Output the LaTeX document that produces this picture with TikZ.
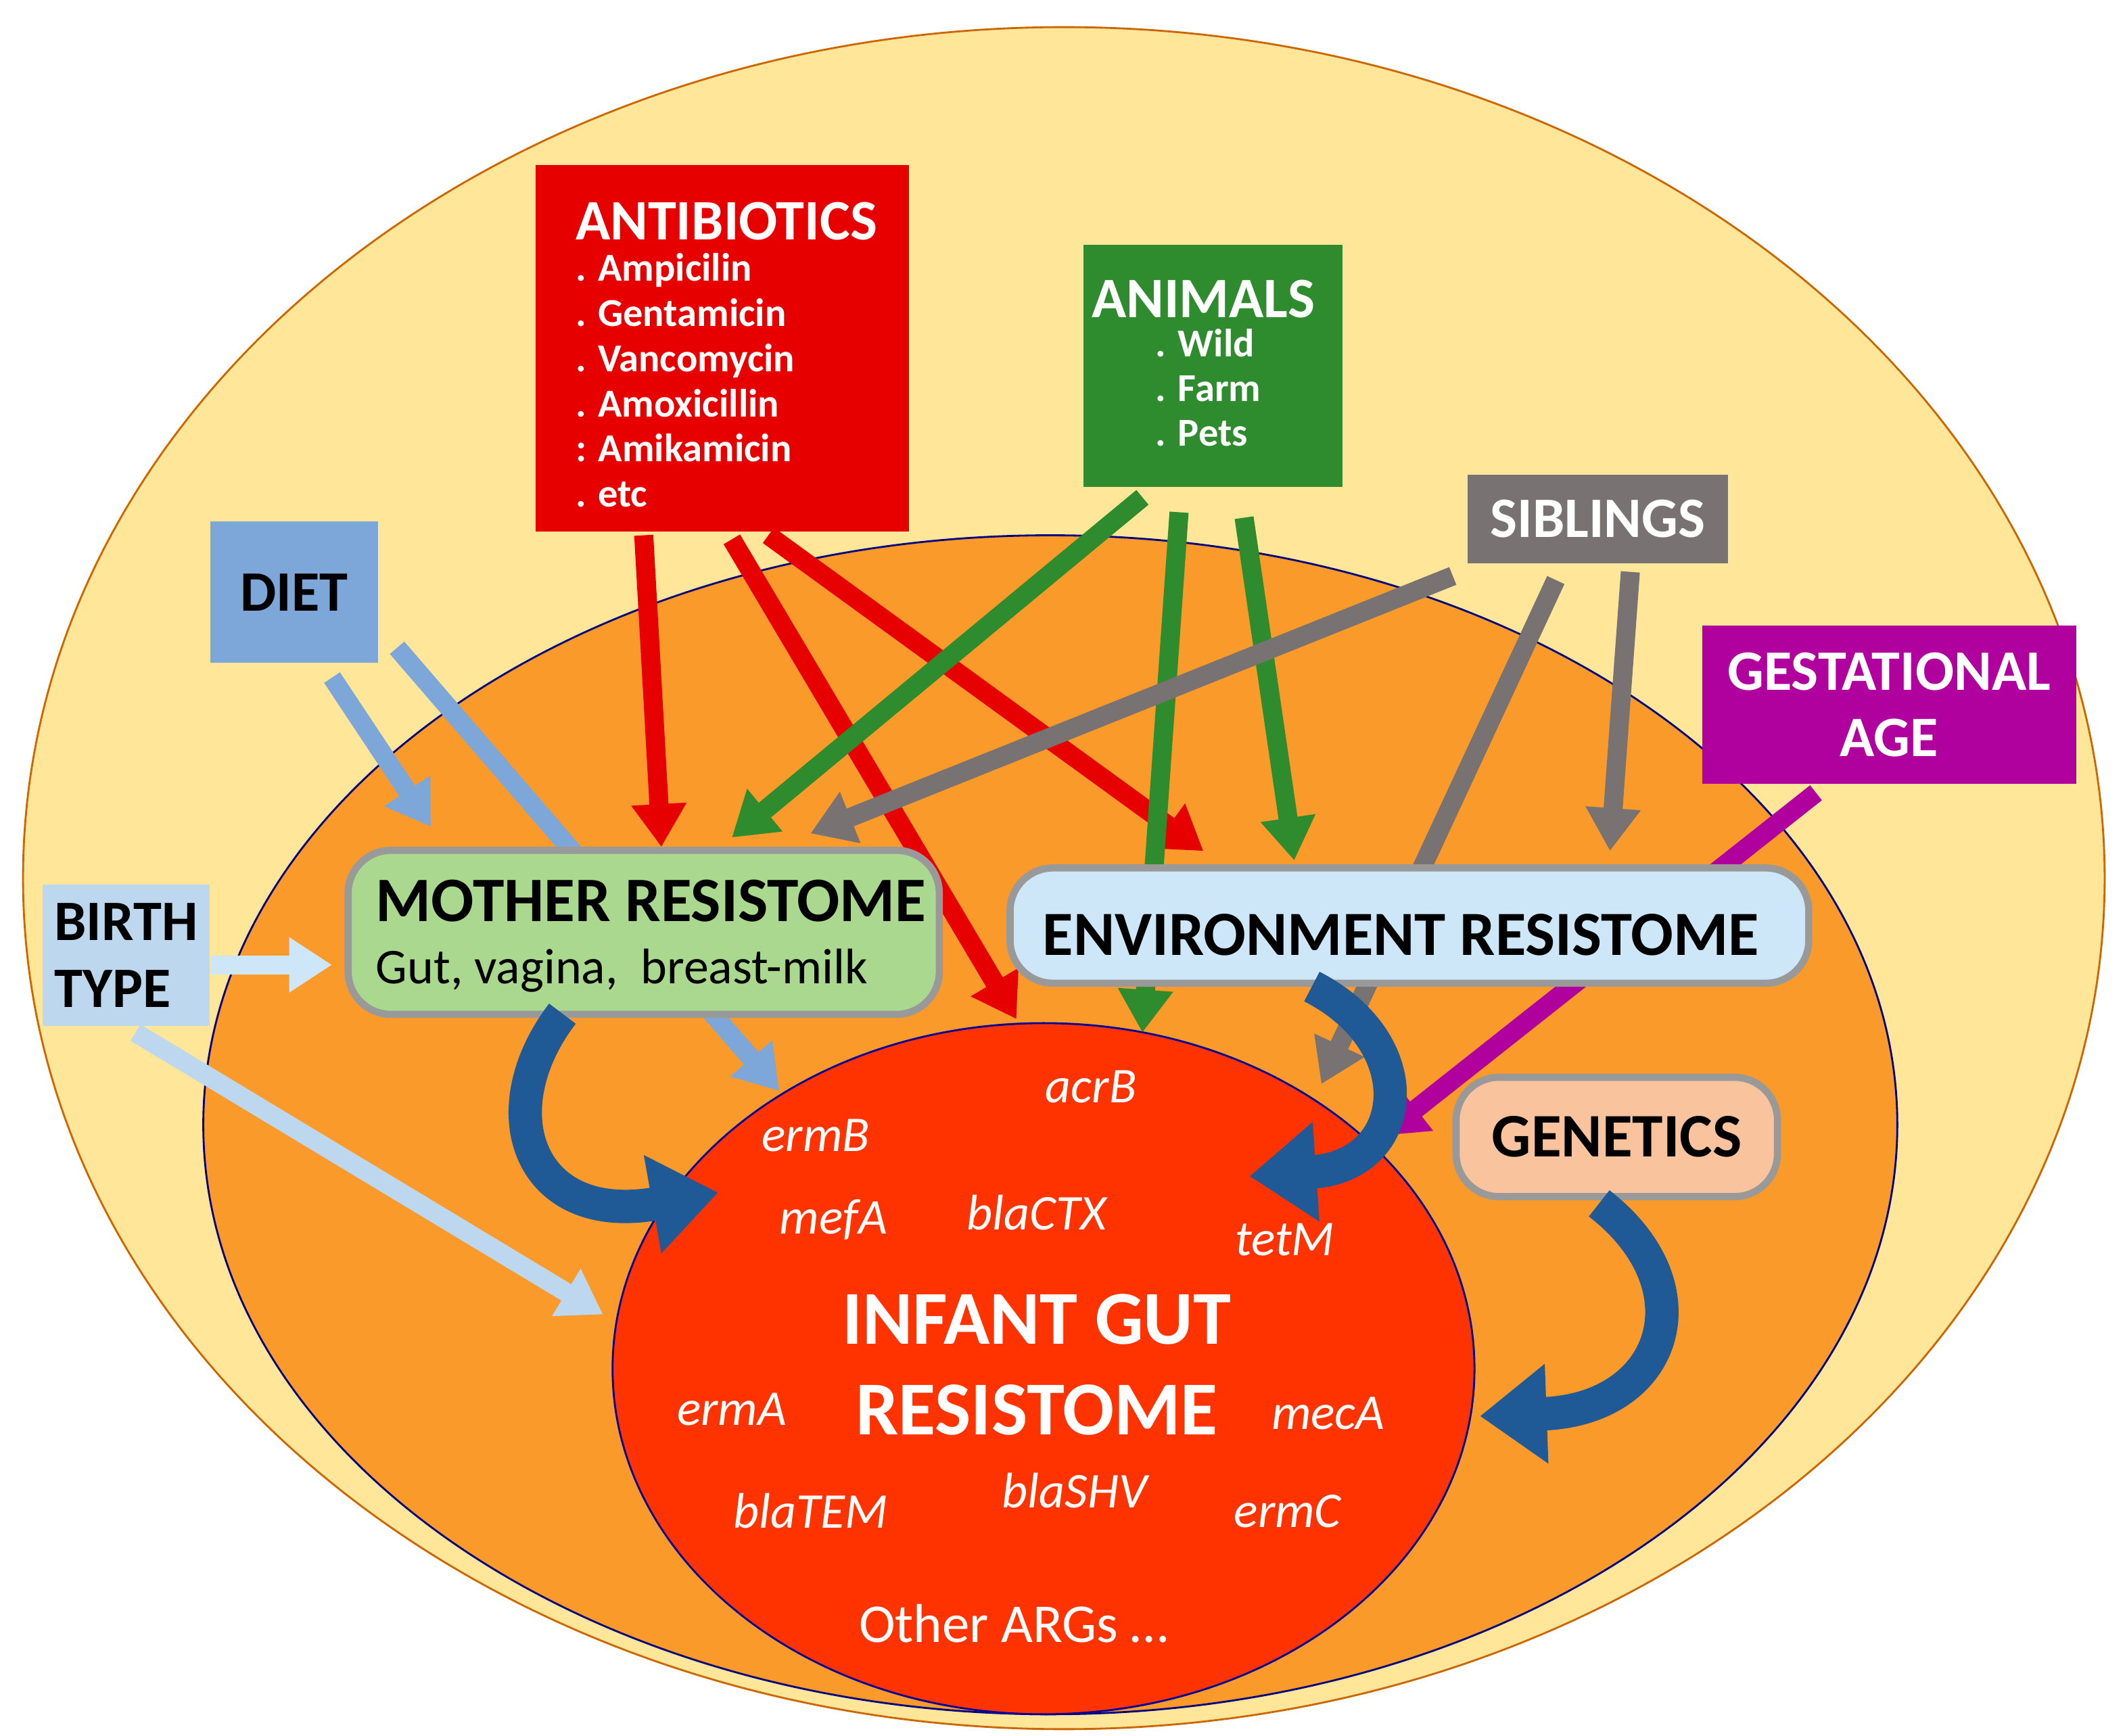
\documentclass[tikz,border=0pt]{standalone}
\usepackage{fontspec}
\setmainfont{Carlito}
\usetikzlibrary{arrows.meta}
\definecolor{yel}{HTML}{FFE699}
\definecolor{org}{HTML}{FA9A2A}
\definecolor{gut}{HTML}{FF3300}
\definecolor{abx}{HTML}{E60000}
\definecolor{ani}{HTML}{2E8B2E}
\definecolor{sib}{HTML}{787372}
\definecolor{ges}{HTML}{B0009E}
\definecolor{diet}{HTML}{7DA7D9}
\definecolor{lb}{HTML}{BDD7EE}
\definecolor{lb2}{HTML}{CDE6F8}
\definecolor{mg}{HTML}{A9D88E}
\definecolor{gen}{HTML}{F8C39D}
\definecolor{dblue}{HTML}{1F5A96}
\begin{document}
\begin{tikzpicture}[x=0.01cm,y=-0.01cm,
 box/.style={draw=none,inner sep=0pt,font=\bfseries},
 arr/.style={line width=4pt,-{Triangle[width=11pt,length=9pt]}},
 curv/.style={line width=7pt,dblue,-{Triangle[width=20pt,length=14pt]}},
 gene/.style={text=white,font=\itshape\fontsize{10.5}{12}\selectfont}]
\useasboundingbox (0,0) rectangle (1568,1281);
\draw[fill=yel,draw=orange!80!black] (785,648) ellipse [x radius=768, y radius=628];
\draw[fill=org,draw=blue!50!black] (775,830) ellipse [x radius=625, y radius=435];
\draw[fill=gut,draw=blue!60!black] (770,1010) ellipse [x radius=318, y radius=255];
% boxes
\node[box,fill=abx,minimum width=2.75cm,minimum height=2.7cm] (abx) at (533,257) {};
\node[text=white,font=\bfseries\fontsize{12}{14}\selectfont,anchor=north] at (536,137) {ANTIBIOTICS};
\node[text=white,font=\bfseries\fontsize{8.3}{9.5}\selectfont,anchor=north west,align=left,inner sep=0] at (424,186) {. Ampicilin\\. Gentamicin\\. Vancomycin\\. Amoxicillin\\: Amikamicin\\. etc};
\node[box,fill=ani,minimum width=1.91cm,minimum height=1.79cm] (ani) at (895,270) {};
\node[text=white,font=\bfseries\fontsize{12}{14}\selectfont,anchor=north] at (888,194) {ANIMALS};
\node[text=white,font=\bfseries\fontsize{8.3}{9.4}\selectfont,anchor=north west,align=left,inner sep=0] at (852,242) {. Wild\\. Farm\\. Pets};
\node[box,fill=sib,minimum width=1.92cm,minimum height=0.65cm,text=white,font=\bfseries\fontsize{12}{14}\selectfont] (sib) at (1179,383) {SIBLINGS};
\node[box,fill=ges,minimum width=2.76cm,minimum height=1.17cm,text=white,align=center,font=\bfseries\fontsize{12}{14}\selectfont] (ges) at (1394,520) {GESTATIONAL\\AGE};
\node[box,fill=diet,minimum width=1.24cm,minimum height=1.04cm,font=\bfseries\fontsize{12}{14}\selectfont] (diet) at (217,437) {DIET};
\node[box,fill=lb,minimum width=1.23cm,minimum height=1.04cm,align=left,font=\bfseries\fontsize{12}{14}\selectfont] (birth) at (93,705) {BIRTH\\TYPE};
% arrows behind boxes
\draw[arr,abx] (475,395) -- (488,625);
\draw[arr,abx] (540,398) -- (750,752);
\draw[arr,abx] (567,395) -- (888,628);
\draw[arr,ani] (843,367) -- (540,618);
\draw[arr,ani] (870,378) -- (843,762);
\draw[arr,ani] (918,382) -- (955,635);
\draw[arr,sib] (1072,425) -- (598,615);
\draw[arr,sib] (1148,428) -- (975,800);
\draw[arr,sib] (1203,422) -- (1188,628);
\draw[arr,ges] (1340,585) -- (1020,838);
\draw[arr,diet] (245,500) -- (318,610);
\draw[arr,diet] (293,478) -- (575,805);
\draw[arr,lb2] (155,712) -- (245,712);
\draw[arr,lb] (100,762) -- (445,970);
% resistome boxes
\node[draw=black!40,line width=1.5pt,rounded corners=9pt,fill=mg,minimum width=4.36cm,minimum height=1.21cm] (mom) at (475,688) {};
\node[anchor=west,font=\bfseries\fontsize{13.3}{16}\selectfont] at (265,665) {MOTHER RESISTOME};
\node[anchor=west,font=\fontsize{10.5}{13}\selectfont] at (265,716) {Gut, vagina,\ \ breast-milk};
\node[draw=black!40,line width=1.5pt,rounded corners=9pt,fill=lb2,minimum width=5.89cm,minimum height=0.85cm] (env) at (1040,683) {};
\node[anchor=west,font=\bfseries\fontsize{13.2}{16}\selectfont] at (757,690) {ENVIRONMENT RESISTOME};
\node[draw=black!40,line width=1.5pt,rounded corners=9pt,fill=gen,minimum width=2.37cm,minimum height=0.88cm,font=\bfseries\fontsize{13}{16}\selectfont] (gen) at (1193,839) {GENETICS};
% curved arrows
\draw[curv] (415,748) .. controls (360,820) and (390,905) .. (530,880);
\draw[curv] (968,728) .. controls (1050,770) and (1040,860) .. (922,868);
\draw[curv] (1180,888) .. controls (1260,950) and (1230,1040) .. (1092,1045);
% gut texts
\node[gene] at (805,802) {acrB};
\node[gene] at (602,838) {ermB};
\node[gene] at (615,900) {mefA};
\node[gene] at (765,895) {blaCTX};
\node[gene] at (948,915) {tetM};
\node[gene] at (540,1040) {ermA};
\node[gene] at (980,1043) {mecA};
\node[gene] at (598,1115) {blaTEM};
\node[gene] at (793,1100) {blaSHV};
\node[gene] at (950,1115) {ermC};
\node[text=white,font=\bfseries\fontsize{16}{19}\selectfont,align=center] (ig) at (765,1007) {INFANT GUT\\RESISTOME};
\node[text=white,font=\fontsize{11.5}{14}\selectfont] at (748,1198) {Other ARGs …};
\end{tikzpicture}
\end{document}
